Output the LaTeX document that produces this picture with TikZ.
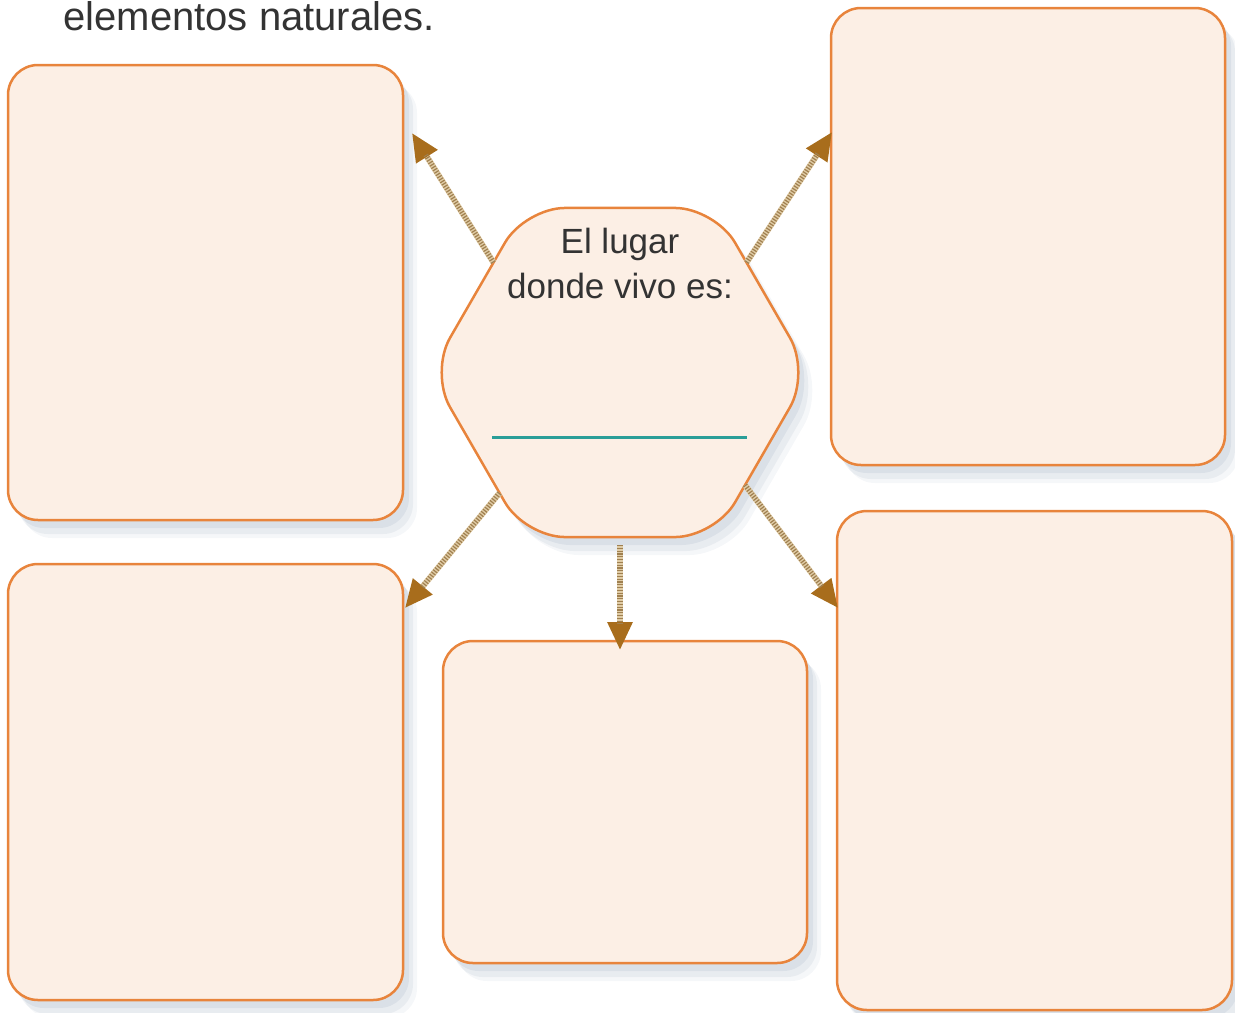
\documentclass[tikz,border=0pt]{standalone}
\usepackage{fontspec}
\setmainfont{Liberation Sans}
\usetikzlibrary{shapes.geometric,arrows.meta,shadows}
\definecolor{boxfill}{HTML}{FCEFE5}
\definecolor{boxline}{HTML}{E8843C}
\definecolor{arrowhead}{HTML}{A86D1C}
\definecolor{shaftlight}{HTML}{E0CCA6}
\definecolor{shaftdark}{HTML}{A08050}
\definecolor{rulecol}{HTML}{2A9E98}
\definecolor{ink}{HTML}{333333}
\definecolor{shadowc}{HTML}{9FAEC0}
\begin{document}
\begin{tikzpicture}[x=0.5pt,y=-0.5pt,
  softshadow/.style={
    drop shadow={shadow xshift=7pt, shadow yshift=-9pt, fill=shadowc, opacity=0.10},
    drop shadow={shadow xshift=5pt, shadow yshift=-7pt, fill=shadowc, opacity=0.15},
    drop shadow={shadow xshift=3pt, shadow yshift=-4pt, fill=shadowc, opacity=0.20}},
  card/.style={draw=boxline, line width=1.25pt, fill=boxfill, rounded corners=15pt,
    inner sep=0pt, outer sep=0pt, softshadow},
  hexa/.style={card, regular polygon, regular polygon sides=6, minimum size=190pt, rounded corners=20pt},
  conn/.style={draw=shaftlight, line width=3pt,
    -{Triangle[length=14pt,width=12pt,color=arrowhead]},
    postaction={draw=shaftdark, line width=2.6pt, dash pattern=on 0.6pt off 0.8pt, -, shorten >=13pt}},
  hextext/.style={font=\fontsize{17.5}{21}\selectfont, text=ink, inner sep=0pt}
]
\useasboundingbox (0,0) rectangle (1235,1012);

\node[card, minimum width=197.5pt, minimum height=227.5pt] (tl) at (205.5,292.5) {};
\node[card, minimum width=197pt, minimum height=228.5pt] (tr) at (1028,236.5) {};
\node[card, minimum width=197.5pt, minimum height=218pt] (bl) at (205.5,782) {};
\node[card, minimum width=182pt, minimum height=161pt] (bc) at (625,802) {};
\node[card, minimum width=197.5pt, minimum height=249.5pt] (br) at (1034.5,760.5) {};
\node[hexa] (hex) at (620,372.5) {};

\node[anchor=base west, font=\fontsize{20}{24}\selectfont, text=ink, inner sep=0pt] (title) at (63,31) {elementos naturales.};
\node[hextext, anchor=base] (t1) at (620,253) {El lugar};
\node[hextext, anchor=base] (t2) at (620,298) {donde vivo es:};
\draw[rulecol, line width=1.5pt] (492,437) -- (747,437);

\coordinate (tipTL) at (412,133);
\coordinate (tipTR) at (832,132);
\coordinate (tipBL) at (405,608);
\coordinate (tipBR) at (838,608);
\coordinate (tipBC) at (620,650);

\draw[conn] (hex.139) -- (tipTL);
\draw[conn] (hex.41) -- (tipTR);
\draw[conn] (hex.225) -- (tipBL);
\draw[conn] (hex.318) -- (tipBR);
\draw[conn] ([yshift=-4pt]hex.south) -- (tipBC);
\end{tikzpicture}
\end{document}
